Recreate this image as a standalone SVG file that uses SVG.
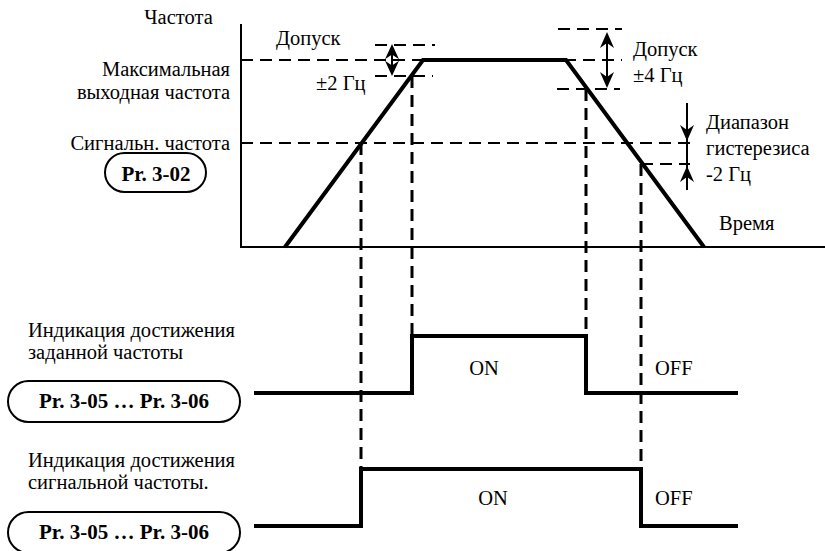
<svg xmlns="http://www.w3.org/2000/svg" width="825" height="551" viewBox="0 0 825 551">
<style>
text{font-family:'Liberation Serif','DejaVu Serif',serif;font-size:20.5px;fill:#000}
.b{font-weight:bold;font-size:21px;text-anchor:middle}
.r{text-anchor:end}
.m{text-anchor:middle}
.ax{stroke:#000;stroke-width:2;fill:none}
.th{stroke:#000;stroke-width:4;fill:none;stroke-linejoin:miter}
.dh{stroke:#000;stroke-width:2;stroke-dasharray:12 7;fill:none}
.dv{stroke:#000;stroke-width:3;stroke-dasharray:12 7;fill:none}
.pill{fill:#fff;stroke:#000;stroke-width:2}
.ah{fill:#000;stroke:none}
.al{stroke:#000;stroke-width:2}
</style>
<defs>
<path id="up" class="ah" d="M0,0 L7,16 L0,11 L-7,16 Z"/>
</defs>
<g id="connectors">
<line class="dh" x1="241" y1="60" x2="622" y2="60"/>
<line class="dh" x1="375" y1="45" x2="435" y2="45"/>
<line class="dh" x1="375" y1="76" x2="433" y2="76"/>
<line class="dh" x1="558" y1="29" x2="622" y2="29"/>
<line class="dh" x1="557" y1="89" x2="620" y2="89"/>
<line class="dh" x1="241" y1="143" x2="690" y2="143"/>
<line class="dh" x1="641" y1="164" x2="690" y2="164"/>
<line class="dv" x1="361" y1="143" x2="361" y2="469"/>
<line class="dv" x1="412" y1="76" x2="412" y2="336"/>
<line class="dv" x1="586" y1="89" x2="586" y2="336"/>
<line class="dv" x1="641" y1="164" x2="641" y2="469"/>
</g>
<g id="axes">
<polyline class="ax" points="241,24 241,247 825,247"/>
</g>
<g id="ramp">
<polyline class="th" points="285,247 423,60 566,60 704,247"/>
</g>
<g id="tol-left">
<line class="al" x1="392" y1="50" x2="392" y2="70"/>
<use href="#up" transform="translate(392,44) scale(1,0.95)"/>
<use href="#up" transform="translate(392,76) scale(1,-0.95)"/>
</g>
<g id="tol-right">
<line class="al" x1="607" y1="34" x2="607" y2="86"/>
<use href="#up" transform="translate(607,32)"/>
<use href="#up" transform="translate(607,88) scale(1,-1)"/>
</g>
<g id="hyst">
<line class="al" x1="687" y1="103" x2="687" y2="190"/>
<use href="#up" transform="translate(687,141) scale(1,-1)"/>
<use href="#up" transform="translate(687,166)"/>
</g>
<g id="signal-set">
<polyline class="th" points="254,393 412,393 412,336 586,336 586,393 738,393"/>
<text class="m" x="484" y="375">ON</text>
<text x="655" y="375">OFF</text>
</g>
<g id="signal-alarm">
<polyline class="th" points="254,526 361,526 361,469 641,469 641,526 738,526"/>
<text class="m" x="493" y="505">ON</text>
<text x="655" y="505">OFF</text>
</g>
<g id="labels">
<text class="m" x="178.5" y="24">Частота</text>
<text x="276" y="45">Допуск</text>
<text class="r" x="230" y="76">Максимальная</text>
<text class="r" x="230" y="99">выходная частота</text>
<text class="r" x="230" y="150">Сигнальн. частота</text>
<text x="316" y="90">±2 Гц</text>
<text x="633" y="56">Допуск</text>
<text x="633" y="82">±4 Гц</text>
<text x="706" y="129">Диапазон</text>
<text x="706" y="155">гистерезиса</text>
<text x="706" y="181">-2 Гц</text>
<text x="719" y="230">Время</text>
<text x="28" y="337">Индикация достижения</text>
<text x="28" y="359">заданной частоты</text>
<text x="28" y="467">Индикация достижения</text>
<text x="28" y="489">сигнальной частоты.</text>
</g>
<g id="pill-302">
<rect class="pill" x="105" y="153" width="101" height="39" rx="19.5"/>
<text class="b" x="156" y="181">Pr. 3-02</text>
</g>
<g id="pill-305a">
<rect class="pill" x="8" y="381" width="232" height="41" rx="20.5"/>
<text class="b" x="124" y="408">Pr. 3-05 … Pr. 3-06</text>
</g>
<g id="pill-305b">
<rect class="pill" x="8" y="512" width="232" height="41" rx="20.5"/>
<text class="b" x="124" y="539">Pr. 3-05 … Pr. 3-06</text>
</g>
</svg>
